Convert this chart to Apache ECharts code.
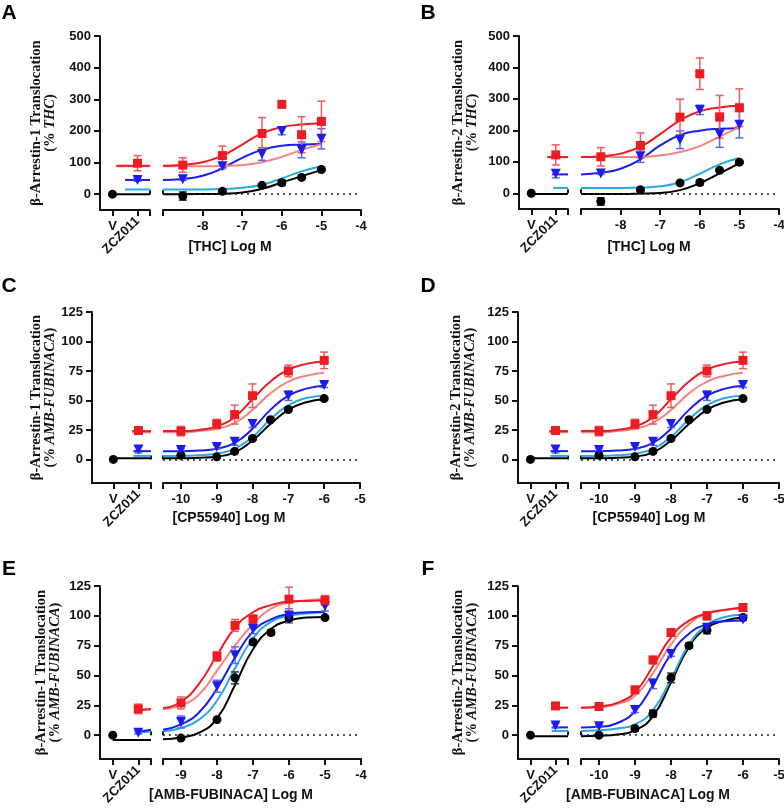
<!DOCTYPE html>
<html>
<head>
<meta charset="utf-8">
<script src="https://cdn.jsdelivr.net/npm/echarts@6.0.0/dist/echarts.min.js"></script>
<style>
  html, body { margin: 0; padding: 0; background: #fff; }
  #main { width: 784px; height: 808px; }
</style>
</head>
<body>
<div id="main"></div>
<script>
// positions of the control points on the left (broken) part of the x axis
const V_POS = 1, ZCZ_POS = 3, BREAK_POS = 4;

// ---------- A : beta-arrestin-1, THC ----------
const aX = [-9, -8.5, -8, -7.5, -7, -6.5, -6, -5.5, -5];
const aFitBlack = [0, 0, 0.5, 1.5, 5, 17, 37, 57, 76];
const aFitLightBlue = [15, 15, 15, 16, 20, 30, 50, 72, 88];
const aFitBlue = [45, 48, 58, 82, 115, 140, 153, 157, 159];
const aFitSalmon = [88, 88, 88, 89, 92, 101, 118, 140, 158];
const aFitRed = [90, 93, 101, 122, 157, 192, 212, 220, 224];
// [log M, mean, sem]
const aCircles = [[-8.5, -6, 13], [-7.5, 9, 3], [-6.5, 28, 4], [-6, 36, 8], [-5.5, 53, 3], [-5, 78, 4]];
const aTriangles = [[-8.5, 47, 3], [-7.5, 88, 8], [-6.5, 127, 20], [-6, 200, 12], [-5.5, 140, 25], [-5, 175, 32]];
const aSquares = [[-8.5, 92, 23], [-7.5, 122, 30], [-6.5, 192, 50], [-6, 284, 0], [-5.5, 188, 57], [-5, 230, 64]];
// [mean, sem]
const aVehicle = [0, 0];
const aZczTriangle = [45, 4];
const aZczSquare = [98, 24];
// fits carried over the control segment
const aLeftBlack = [[1, 0], [4, 0]];
const aLeftLightBlue = [[2, 15], [4, 15]];
const aLeftBlue = [[2, 45], [4, 45]];
const aLeftSalmon = [[1.3, 88], [4, 88]];
const aLeftRed = [[1.3, 90], [4, 90]];

// ---------- B : beta-arrestin-2, THC ----------
const bX = [-9, -8.5, -8, -7.5, -7, -6.5, -6, -5.5, -5];
const bFitBlack = [-2, -2, -2, -1, 1, 10, 32, 63, 96];
const bFitLightBlue = [17, 17, 17, 18, 22, 35, 62, 92, 112];
const bFitBlue = [60, 65, 78, 108, 152, 185, 199, 205, 207];
const bFitSalmon = [115, 115, 115, 116, 120, 131, 150, 180, 210];
const bFitRed = [115, 118, 126, 148, 188, 232, 261, 273, 278];
const bCircles = [[-8.5, -26, 12], [-7.5, 11, 4], [-6.5, 33, 4], [-6, 34, 8], [-5.5, 73, 4], [-5, 99, 4]];
const bTriangles = [[-8.5, 63, 3], [-7.5, 118, 20], [-6.5, 170, 28], [-6, 265, 15], [-5.5, 188, 42], [-5, 218, 42]];
const bSquares = [[-8.5, 116, 29], [-7.5, 152, 40], [-6.5, 242, 57], [-6, 380, 50], [-5.5, 243, 68], [-5, 272, 60]];
const bVehicle = [0, 0];
const bZczTriangle = [62, 13];
const bZczSquare = [122, 32];
const bLeftBlack = [[1, -2], [4, -2]];
const bLeftLightBlue = [[2.8, 17], [4, 17]];
const bLeftBlue = [[2.7, 60], [4, 60]];
const bLeftSalmon = [[2.3, 115], [4, 115]];
const bLeftRed = [[2.3, 115], [4, 115]];

// ---------- C / D : CP55940 (both panels read the same) ----------
const cX = [-10.5, -10, -9.5, -9, -8.5, -8, -7.5, -7, -6.5, -6];
const cFitBlack = [1, 1, 1.5, 2.5, 6, 16, 30, 42, 48.5, 51];
const cFitLightBlue = [3, 3, 3.5, 5, 9, 19, 34, 46, 52, 54];
const cFitBlue = [7, 7, 7.5, 9, 14, 26, 42, 54, 60, 62.5];
const cFitSalmon = [23, 23, 24, 26, 31, 42, 56, 66, 71, 73.5];
const cFitRed = [24, 24, 25, 28, 36, 51, 66, 76, 81, 83];
const cCircles = [[-10, 3.6, 0], [-9, 2.2, 0], [-8.5, 6.8, 1], [-8, 17.7, 1.5], [-7.5, 33.6, 1], [-7, 42.3, 1], [-6, 51.6, 1]];
const cTriangles = [[-10, 8, 1.5], [-9, 10.5, 1.5], [-8.5, 15, 3], [-8, 30, 3], [-7, 54, 4], [-6, 63, 2]];
const cSquares = [[-10, 24, 4], [-9, 30, 4], [-8.5, 38, 8], [-8, 54, 10], [-7, 75, 5], [-6, 84, 7]];
const cVehicle = [0, 0];
const cZczTriangle = [8.5, 3];
const cZczSquare = [24.5, 1.5];
const cLeftBlack = [[1, 1], [4, 1]];
const cLeftLightBlue = [[2.6, 3], [4, 3]];
const cLeftBlue = [[2.6, 7], [4, 7]];
const cLeftSalmon = [[2.5, 23], [4, 23]];
const cLeftRed = [[2.5, 24], [4, 24]];

// ---------- E : beta-arrestin-1, AMB-FUBINACA ----------
const eX = [-9.5, -9, -8.5, -8, -7.5, -7, -6.5, -6, -5.5, -5];
const eFitBlack = [-3.5, -2, 2, 14, 42, 72, 89, 96, 98.5, 99];
const eFitLightBlue = [3, 6, 13, 29, 56, 81, 95, 100, 102, 103];
const eFitBlue = [4.5, 9, 19, 39, 65, 87, 97, 101.5, 103, 103.5];
const eFitSalmon = [22, 25, 34, 54, 75, 93, 106, 111, 113, 114];
const eFitRed = [22.5, 28, 43, 67, 90, 103, 109, 112, 112.5, 113];
const eCircles = [[-9, -2.5, 1], [-8, 13, 1], [-7.5, 48, 5], [-7, 78, 2], [-6.5, 86, 2], [-6, 98, 2], [-5, 98.5, 1]];
const eTriangles = [[-9, 11, 5], [-8, 41, 5], [-7.5, 67, 7], [-7, 89, 4], [-6, 100, 6], [-5, 108, 4]];
const eSquares = [[-9, 27, 5], [-8, 66, 4], [-7.5, 92, 5], [-7, 97, 4], [-6, 114, 10], [-5, 113, 4]];
const eVehicle = [0, 0];
const eZczTriangle = [2, 1];
const eZczSquare = [22, 4];
const eLeftBlack = [[1, -4], [4, -4]];
const eLeftLightBlue = [[2.8, 2], [4, 3]];
const eLeftBlue = [[2.8, 2.5], [4, 4.5]];
const eLeftSalmon = [[2.8, 20.5], [4, 21.5]];
const eLeftRed = [[2.8, 21], [4, 22]];

// ---------- F : beta-arrestin-2, AMB-FUBINACA ----------
const fX = [-10.5, -10, -9.5, -9, -8.5, -8, -7.5, -7, -6.5, -6];
const fFitBlack = [-1, -0.5, 0.5, 4, 16, 44, 74, 90, 96, 98.5];
const fFitLightBlue = [3.5, 4, 5.5, 9, 21, 47, 76, 92, 99, 101];
const fFitBlue = [6.5, 7, 10, 20, 42, 68, 85, 93, 95.5, 96];
const fFitSalmon = [23, 23.5, 26, 33, 52, 76, 93, 102, 105, 106];
const fFitRed = [23, 24, 27, 36, 58, 82, 96, 102, 105, 107];
const fCircles = [[-10, 0, 0.5], [-9, 5.5, 2], [-8.5, 18, 3], [-8, 48, 4], [-7.5, 75, 2], [-7, 88, 3], [-6, 98.5, 1]];
const fTriangles = [[-10, 7.5, 1], [-9, 21, 2], [-8.5, 43, 4], [-8, 68, 2], [-7, 90, 3], [-6, 97, 1]];
const fSquares = [[-10, 24, 1.5], [-9, 38, 2], [-8.5, 63, 3], [-8, 86, 3], [-7, 100, 3.5], [-6, 107, 3]];
const fVehicle = [0, 0];
const fZczTriangle = [8, 2];
const fZczSquare = [24.5, 1];
const fLeftBlack = [[1, -1], [4, -1]];
const fLeftLightBlue = [[2.7, 3.5], [4, 3.5]];
const fLeftBlue = [[2.7, 6.5], [4, 6.5]];
const fLeftSalmon = [[2.7, 23], [4, 23]];
const fLeftRed = [[2.7, 23], [4, 23]];

// tick labels
const thcTicks = [0, 100, 200, 300, 400, 500];
const pctTicks = [0, 25, 50, 75, 100, 125];

// ---------- styles ----------
const SANS = 'Liberation Sans';
const SERIF = 'Liberation Serif';
const INK = '#111';
const BLACK = '#000000', LIGHTBLUE = '#29a9e1', BLUE = '#1c1cf0', SALMON = '#f7837f', RED = '#ec1c24';
const ERR_BLACK = '#333333', ERR_BLUE = '#5a66f2', ERR_RED = '#f15a5f';

const nameRich = {
  a: { fontFamily: SERIF, fontWeight: 'bold', fontSize: 14.5, lineHeight: 14, color: INK },
  b: { fontFamily: SERIF, fontWeight: 'bold', fontStyle: 'italic', fontSize: 14.5, lineHeight: 14, color: INK }
};
const axisLine = { show: true, onZero: false, lineStyle: { color: INK, width: 2 } };
const tickStyle = { color: INK, width: 2 };
const labelFont = { fontFamily: SANS, fontWeight: 'bold', fontSize: 13, color: INK };

const zip = (xs, ys) => xs.map((x, i) => [x, ys[i]]);

function lineSeries(xi, yi, data, color, z) {
  return {
    type: 'line', xAxisIndex: xi, yAxisIndex: yi, data: data,
    smooth: 0.5, symbol: 'none', showSymbol: false,
    lineStyle: { color: color, width: 2 }, z: z, silent: true
  };
}

function dotSeries(xi, yi, data, symbol, size, rotate, color) {
  return {
    type: 'scatter', xAxisIndex: xi, yAxisIndex: yi,
    data: data.map(d => [d[0], d[1]]),
    symbol: symbol, symbolSize: size, symbolRotate: rotate,
    itemStyle: { color: color, opacity: 1 }, z: 5, silent: true
  };
}

function errSeries(xi, yi, data, color) {
  return {
    type: 'custom', xAxisIndex: xi, yAxisIndex: yi, clip: false, silent: true, z: 4,
    data: data.filter(d => d[2] > 0).map(d => [d[0], d[1] - d[2], d[1] + d[2]]),
    encode: { x: 0, y: [1, 2] },
    renderItem: function (params, api) {
      const lo = api.coord([api.value(0), api.value(1)]);
      const hi = api.coord([api.value(0), api.value(2)]);
      const w = 4;
      const st = { stroke: color, lineWidth: 1.5 };
      return {
        type: 'group',
        children: [
          { type: 'line', shape: { x1: lo[0], y1: lo[1], x2: hi[0], y2: hi[1] }, style: st },
          { type: 'line', shape: { x1: hi[0] - w, y1: hi[1], x2: hi[0] + w, y2: hi[1] }, style: st },
          { type: 'line', shape: { x1: lo[0] - w, y1: lo[1], x2: lo[0] + w, y2: lo[1] }, style: st }
        ]
      };
    }
  };
}

const dotted = { color: '#222', type: [2, 4], width: 1.5 };

const option = {
  animation: false,
  backgroundColor: '#fff',
  grid: [], xAxis: [], yAxis: [], series: [], graphic: []
};

function addPanel(p) {
  const g = option.grid.length;
  const h = p.bottom - p.top;
  option.grid.push({ left: p.lx0, top: p.top, width: p.lx1 - p.lx0, height: h, outerBoundsMode: 'none' });
  option.grid.push({ left: p.rx0, top: p.top, width: p.rx1 - p.rx0, height: h, outerBoundsMode: 'none' });

  const xL = option.xAxis.length;
  // control segment: V label + ticks
  option.xAxis.push({
    gridIndex: g, type: 'value', position: 'bottom', min: p.lmin, max: BREAK_POS,
    axisLine: axisLine, splitLine: { show: false },
    axisTick: { show: true, customValues: [V_POS, ZCZ_POS, BREAK_POS], length: 6, lineStyle: tickStyle },
    axisLabel: Object.assign({ customValues: [V_POS], formatter: () => 'V', margin: 10 }, labelFont)
  });
  // control segment: rotated ZCZ011 label + upper half of the break mark
  option.xAxis.push({
    gridIndex: g, type: 'value', position: 'bottom', min: p.lmin, max: BREAK_POS,
    axisLine: { show: false }, splitLine: { show: false },
    axisTick: { show: true, inside: true, customValues: [BREAK_POS], length: 4, lineStyle: tickStyle },
    axisLabel: Object.assign({ customValues: [ZCZ_POS], formatter: () => 'ZCZ011', rotate: 45, margin: 9 }, labelFont)
  });
  // concentration segment
  option.xAxis.push({
    gridIndex: g + 1, type: 'value', position: 'bottom', min: p.rmin, max: p.rmax,
    axisLine: axisLine, splitLine: { show: false },
    axisTick: { show: true, customValues: p.rTicks, length: 6, lineStyle: tickStyle },
    axisLabel: Object.assign({ customValues: p.rLabels, margin: 10 }, labelFont)
  });
  // upper half of the break mark on the concentration segment
  option.xAxis.push({
    gridIndex: g + 1, type: 'value', position: 'bottom', min: p.rmin, max: p.rmax,
    axisLine: { show: false }, splitLine: { show: false }, axisLabel: { show: false },
    axisTick: { show: true, inside: true, customValues: [p.rmin], length: 4, lineStyle: tickStyle }
  });

  const yL = option.yAxis.length;
  option.yAxis.push({
    gridIndex: g, type: 'value', min: p.ymin, max: p.ymax,
    axisLine: axisLine, splitLine: { show: false },
    axisTick: { show: true, customValues: p.yTicks, length: 6, lineStyle: tickStyle },
    axisLabel: Object.assign({ customValues: p.yTicks, margin: 9 }, labelFont),
    name: p.yName, nameLocation: 'middle', nameGap: p.yGap,
    nameTextStyle: { rich: nameRich }
  });
  option.yAxis.push({ gridIndex: g + 1, type: 'value', min: p.ymin, max: p.ymax, show: false });

  const xR = xL + 2, yR = yL + 1;
  const s = option.series;
  // control segment; dotted zero line runs on across the break
  const lb = lineSeries(xL, yL, p.left[0], BLACK, 2);
  lb.clip = false;
  lb.markLine = {
    silent: true, symbol: ['none', 'none'], label: { show: false }, animation: false, lineStyle: dotted,
    data: [[{ coord: [p.lmin, 0] }, { coord: [BREAK_POS + 0.95, 0] }]]
  };
  s.push(lb);
  s.push(lineSeries(xL, yL, p.left[1], LIGHTBLUE, 2));
  s.push(lineSeries(xL, yL, p.left[2], BLUE, 2));
  s.push(lineSeries(xL, yL, p.left[3], SALMON, 2));
  s.push(lineSeries(xL, yL, p.left[4], RED, 2));
  const tri = [[ZCZ_POS, p.zczTri[0], p.zczTri[1]]];
  const sq = [[ZCZ_POS, p.zczSq[0], p.zczSq[1]]];
  s.push(errSeries(xL, yL, tri, ERR_BLUE));
  s.push(errSeries(xL, yL, sq, ERR_RED));
  s.push(dotSeries(xL, yL, [[V_POS, p.vehicle[0]]], 'circle', 9, 0, BLACK));
  s.push(dotSeries(xL, yL, tri, 'triangle', 10, 180, BLUE));
  s.push(dotSeries(xL, yL, sq, 'rect', 9, 0, RED));

  // concentration segment
  const rb = lineSeries(xR, yR, zip(p.x, p.fits[0]), BLACK, 2);
  rb.markLine = {
    silent: true, symbol: ['none', 'none'], label: { show: false }, animation: false, lineStyle: dotted,
    data: [{ yAxis: 0 }]
  };
  s.push(rb);
  s.push(lineSeries(xR, yR, zip(p.x, p.fits[1]), LIGHTBLUE, 2));
  s.push(lineSeries(xR, yR, zip(p.x, p.fits[2]), BLUE, 2));
  s.push(lineSeries(xR, yR, zip(p.x, p.fits[3]), SALMON, 2));
  s.push(lineSeries(xR, yR, zip(p.x, p.fits[4]), RED, 2));
  s.push(errSeries(xR, yR, p.circles, ERR_BLACK));
  s.push(errSeries(xR, yR, p.triangles, ERR_BLUE));
  s.push(errSeries(xR, yR, p.squares, ERR_RED));
  s.push(dotSeries(xR, yR, p.circles, 'circle', 9, 0, BLACK));
  s.push(dotSeries(xR, yR, p.triangles, 'triangle', 10, 180, BLUE));
  s.push(dotSeries(xR, yR, p.squares, 'rect', 9, 0, RED));

  option.graphic.push({
    type: 'text', x: p.letterX, y: p.letterY, silent: true,
    style: { text: p.letter, font: 'bold 21px ' + SANS, fill: '#000', align: 'center', verticalAlign: 'middle', textAlign: 'center', textVerticalAlign: 'middle' }
  });
  option.graphic.push({
    type: 'text', x: p.xNameX, y: p.xNameY, silent: true,
    style: { text: p.xName, font: 'bold 14px ' + SANS, fill: INK, align: 'center', verticalAlign: 'middle', textAlign: 'center', textVerticalAlign: 'middle' }
  });
}

const thcName1 = '{a|β-Arrestin-1 Translocation}\n{a|(% }{b|THC}{a|)}';
const thcName2 = '{a|β-Arrestin-2 Translocation}\n{a|(% }{b|THC}{a|)}';
const ambName1 = '{a|β-Arrestin-1 Translocation}\n{a|(% }{b|AMB-FUBINACA}{a|)}';
const ambName2 = '{a|β-Arrestin-2 Translocation}\n{a|(% }{b|AMB-FUBINACA}{a|)}';

const ticks9 = [-9, -8, -7, -6, -5, -4];
const ticks95 = [-9.5, -9, -8, -7, -6, -5, -4];
const ticks105 = [-10.5, -10, -9, -8, -7, -6, -5];

addPanel({
  letter: 'A', letterX: 9, letterY: 13,
  lx0: 100, lx1: 150, rx0: 163, rx1: 361, top: 36, bottom: 210, lmin: 0,
  rmin: -9, rmax: -4, rTicks: ticks9, rLabels: [-8, -7, -6, -5, -4],
  ymin: -50, ymax: 500, yTicks: thcTicks, yName: thcName1, yGap: 43,
  xName: '[THC] Log M', xNameX: 230, xNameY: 247,
  x: aX, fits: [aFitBlack, aFitLightBlue, aFitBlue, aFitSalmon, aFitRed],
  left: [aLeftBlack, aLeftLightBlue, aLeftBlue, aLeftSalmon, aLeftRed],
  circles: aCircles, triangles: aTriangles, squares: aSquares,
  vehicle: aVehicle, zczTri: aZczTriangle, zczSq: aZczSquare
});
addPanel({
  letter: 'B', letterX: 428, letterY: 13,
  lx0: 519, lx1: 568, rx0: 581, rx1: 779, top: 36, bottom: 209, lmin: 0,
  rmin: -9, rmax: -4, rTicks: ticks9, rLabels: [-8, -7, -6, -5, -4],
  ymin: -50, ymax: 500, yTicks: thcTicks, yName: thcName2, yGap: 40,
  xName: '[THC] Log M', xNameX: 649, xNameY: 247,
  x: bX, fits: [bFitBlack, bFitLightBlue, bFitBlue, bFitSalmon, bFitRed],
  left: [bLeftBlack, bLeftLightBlue, bLeftBlue, bLeftSalmon, bLeftRed],
  circles: bCircles, triangles: bTriangles, squares: bSquares,
  vehicle: bVehicle, zczTri: bZczTriangle, zczSq: bZczSquare
});
addPanel({
  letter: 'C', letterX: 9, letterY: 286,
  lx0: 92, lx1: 151, rx0: 163, rx1: 360, top: 312, bottom: 483, lmin: -0.7,
  rmin: -10.5, rmax: -5, rTicks: ticks105, rLabels: [-10, -9, -8, -7, -6, -5],
  ymin: -20, ymax: 125, yTicks: pctTicks, yName: ambName1, yGap: 32,
  xName: '[CP55940] Log M', xNameX: 229, xNameY: 518,
  x: cX, fits: [cFitBlack, cFitLightBlue, cFitBlue, cFitSalmon, cFitRed],
  left: [cLeftBlack, cLeftLightBlue, cLeftBlue, cLeftSalmon, cLeftRed],
  circles: cCircles, triangles: cTriangles, squares: cSquares,
  vehicle: cVehicle, zczTri: cZczTriangle, zczSq: cZczSquare
});
addPanel({
  letter: 'D', letterX: 428, letterY: 286,
  lx0: 518, lx1: 568, rx0: 581, rx1: 779, top: 312, bottom: 483, lmin: 0,
  rmin: -10.5, rmax: -5, rTicks: ticks105, rLabels: [-10, -9, -8, -7, -6, -5],
  ymin: -20, ymax: 125, yTicks: pctTicks, yName: ambName2, yGap: 41,
  xName: '[CP55940] Log M', xNameX: 649, xNameY: 518,
  x: cX, fits: [cFitBlack, cFitLightBlue, cFitBlue, cFitSalmon, cFitRed],
  left: [cLeftBlack, cLeftLightBlue, cLeftBlue, cLeftSalmon, cLeftRed],
  circles: cCircles, triangles: cTriangles, squares: cSquares,
  vehicle: cVehicle, zczTri: cZczTriangle, zczSq: cZczSquare
});
addPanel({
  letter: 'E', letterX: 9, letterY: 569,
  lx0: 100, lx1: 151, rx0: 163, rx1: 361, top: 586, bottom: 759, lmin: 0,
  rmin: -9.5, rmax: -4, rTicks: ticks95, rLabels: [-9, -8, -7, -6, -5, -4],
  ymin: -20, ymax: 125, yTicks: pctTicks, yName: ambName1, yGap: 38,
  xName: '[AMB-FUBINACA] Log M', xNameX: 231, xNameY: 795,
  x: eX, fits: [eFitBlack, eFitLightBlue, eFitBlue, eFitSalmon, eFitRed],
  left: [eLeftBlack, eLeftLightBlue, eLeftBlue, eLeftSalmon, eLeftRed],
  circles: eCircles, triangles: eTriangles, squares: eSquares,
  vehicle: eVehicle, zczTri: eZczTriangle, zczSq: eZczSquare
});
addPanel({
  letter: 'F', letterX: 428, letterY: 569,
  lx0: 518, lx1: 568, rx0: 581, rx1: 779, top: 586, bottom: 759, lmin: 0,
  rmin: -10.5, rmax: -5, rTicks: ticks105, rLabels: [-10, -9, -8, -7, -6, -5],
  ymin: -20, ymax: 125, yTicks: pctTicks, yName: ambName2, yGap: 39,
  xName: '[AMB-FUBINACA] Log M', xNameX: 648, xNameY: 795,
  x: fX, fits: [fFitBlack, fFitLightBlue, fFitBlue, fFitSalmon, fFitRed],
  left: [fLeftBlack, fLeftLightBlue, fLeftBlue, fLeftSalmon, fLeftRed],
  circles: fCircles, triangles: fTriangles, squares: fSquares,
  vehicle: fVehicle, zczTri: fZczTriangle, zczSq: fZczSquare
});

const chart = echarts.init(document.getElementById('main'), null, { renderer: 'canvas' });
chart.setOption(option);
</script>
</body>
</html>
